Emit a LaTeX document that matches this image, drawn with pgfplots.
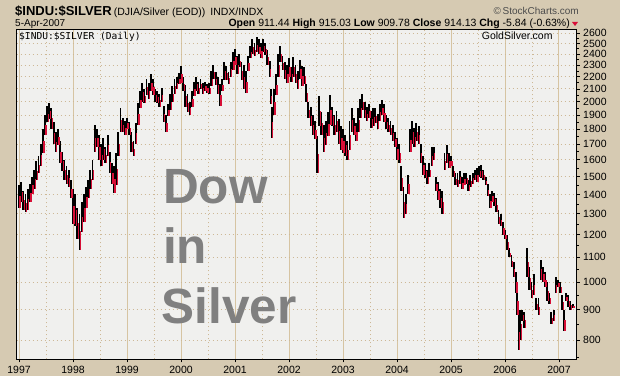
\documentclass[border=0pt]{standalone}
\usepackage{fontspec}
\setmainfont{Liberation Sans}
\newfontfamily\monofont{DejaVu Sans Mono}
\usepackage{pgfplots}
\usepackage{pgfplotstable}
\pgfplotsset{compat=1.18}
\definecolor{bgtan}{RGB}{214,202,178}
\definecolor{plotbg}{RGB}{240,240,238}
\definecolor{yeargrid}{RGB}{214,196,162}
\definecolor{dotgrid}{RGB}{205,184,150}
\definecolor{downred}{RGB}{215,15,55}
\definecolor{bigtext}{RGB}{128,128,128}

\pgfplotstableread{
x lo hi
1997.00 1330 1450
1997.04 1360 1470
1997.08 1320 1420
1997.12 1310 1400
1997.16 1320 1430
1997.20 1360 1460
1997.24 1400 1500
1997.28 1430 1540
1997.32 1480 1590
1997.36 1520 1620
1997.40 1560 1700
1997.44 1640 1800
1997.48 1760 1900
1997.52 1850 1970
1997.56 1870 1990
1997.60 1800 1950
1997.64 1700 1850
1997.68 1650 1780
1997.72 1690 1800
1997.76 1580 1720
1997.80 1530 1650
1997.84 1480 1600
1997.88 1460 1560
1997.92 1440 1540
1997.96 1380 1480
1998.00 1250 1430
1998.04 1240 1400
1998.08 1180 1330
1998.12 1130 1300
1998.16 1210 1360
1998.20 1260 1400
1998.24 1330 1440
1998.28 1380 1480
1998.32 1430 1540
1998.36 1480 1600
1998.40 1650 1830
1998.44 1680 1800
1998.48 1600 1760
1998.52 1560 1700
1998.56 1600 1740
1998.60 1580 1680
1998.64 1620 1760
1998.68 1520 1650
1998.72 1460 1580
1998.76 1410 1560
1998.80 1450 1640
1998.84 1620 1780
1998.88 1780 1950
1998.92 1780 1880
1998.96 1760 1860
1999.00 1800 1880
1999.04 1760 1850
1999.08 1650 1780
1999.12 1620 1720
1999.16 1700 1840
1999.20 1830 1990
1999.24 1950 2080
1999.28 2000 2150
1999.32 1990 2100
1999.36 2050 2180
1999.40 2020 2150
1999.44 2080 2220
1999.48 2050 2180
1999.52 2000 2100
1999.56 1990 2080
1999.60 1960 2060
1999.64 2000 2110
1999.68 1850 1970
1999.72 1780 1900
1999.76 1890 1980
1999.80 1940 2060
1999.84 2000 2120
1999.88 2060 2180
1999.92 2100 2200
1999.96 2140 2230
2000.00 2150 2290
2000.04 2080 2200
2000.08 1960 2130
2000.12 1920 2060
2000.16 1900 2000
2000.20 1960 2080
2000.24 2040 2160
2000.28 2080 2200
2000.32 2060 2160
2000.36 2100 2180
2000.40 2060 2150
2000.44 2080 2160
2000.48 2070 2140
2000.52 2060 2150
2000.56 2120 2250
2000.60 2180 2300
2000.64 2130 2240
2000.68 2060 2200
2000.72 1970 2140
2000.76 2080 2180
2000.80 2170 2330
2000.84 2170 2290
2000.88 2140 2240
2000.92 2200 2330
2000.96 2260 2420
2001.00 2300 2450
2001.04 2220 2380
2001.08 2280 2400
2001.12 2170 2330
2001.16 2100 2300
2001.20 2070 2250
2001.24 2250 2380
2001.28 2360 2480
2001.32 2400 2540
2001.36 2380 2500
2001.40 2420 2560
2001.44 2400 2540
2001.48 2360 2500
2001.52 2420 2540
2001.56 2390 2500
2001.60 2300 2440
2001.64 2200 2340
2001.66 1980 2100
2001.68 1740 1960
2001.72 1900 2100
2001.76 2050 2220
2001.80 2200 2400
2001.84 2330 2480
2001.88 2260 2380
2001.92 2180 2330
2001.96 2150 2300
2002.00 2200 2360
2002.04 2160 2280
2002.08 2200 2370
2002.12 2150 2300
2002.16 2100 2250
2002.20 2180 2350
2002.24 2120 2290
2002.28 2140 2280
2002.32 2000 2140
2002.36 1880 2000
2002.40 1820 1960
2002.44 1760 1900
2002.48 1730 1860
2002.52 1520 1750
2002.56 1820 2040
2002.60 1760 1920
2002.64 1650 1830
2002.68 1690 1860
2002.72 1750 1920
2002.76 1830 2050
2002.80 1820 1960
2002.84 1760 1900
2002.88 1780 1930
2002.92 1700 1870
2002.96 1660 1820
2003.00 1640 1800
2003.04 1620 1760
2003.08 1600 1720
2003.12 1660 1860
2003.16 1780 1950
2003.20 1760 1880
2003.24 1720 1840
2003.28 1780 1950
2003.32 1880 2020
2003.36 1940 2060
2003.40 1880 2000
2003.44 1860 1960
2003.48 1880 1980
2003.52 1810 1930
2003.56 1820 1950
2003.60 1840 1950
2003.64 1800 1910
2003.68 1860 1980
2003.72 1900 2010
2003.76 1850 1980
2003.80 1800 1900
2003.84 1780 1880
2003.88 1760 1860
2003.92 1720 1830
2003.96 1680 1780
2004.00 1600 1740
2004.04 1580 1700
2004.08 1420 1560
2004.12 1280 1440
2004.16 1300 1400
2004.20 1400 1510
2004.24 1650 1800
2004.28 1700 1860
2004.32 1680 1810
2004.36 1720 1840
2004.40 1700 1820
2004.44 1580 1700
2004.48 1510 1620
2004.52 1490 1580
2004.56 1460 1540
2004.60 1500 1580
2004.64 1560 1680
2004.68 1600 1680
2004.72 1420 1500
2004.76 1370 1470
2004.80 1330 1430
2004.84 1300 1420
2004.88 1540 1640
2004.92 1580 1690
2004.96 1550 1640
2005.00 1560 1620
2005.04 1500 1560
2005.08 1450 1520
2005.12 1440 1520
2005.16 1460 1530
2005.20 1430 1500
2005.24 1450 1520
2005.28 1460 1520
2005.32 1420 1480
2005.36 1440 1510
2005.40 1460 1520
2005.44 1480 1540
2005.48 1470 1550
2005.52 1500 1560
2005.56 1490 1570
2005.60 1480 1540
2005.64 1450 1500
2005.68 1390 1460
2005.72 1330 1400
2005.76 1360 1420
2005.80 1340 1410
2005.84 1310 1380
2005.88 1250 1320
2005.92 1240 1300
2005.96 1200 1260
2006.00 1180 1220
2006.04 1130 1200
2006.08 1100 1140
2006.12 1060 1110
2006.16 1020 1080
2006.20 960 1040
2006.22 880 980
2006.25 770 880
2006.28 800 900
2006.32 860 900
2006.36 840 890
2006.41 1020 1140
2006.45 970 1060
2006.49 940 1000
2006.53 950 1030
2006.58 900 940
2006.62 880 940
2006.66 1010 1090
2006.70 1000 1060
2006.74 980 1040
2006.78 930 1000
2006.82 920 960
2006.86 850 890
2006.90 860 900
2006.94 960 1020
2006.98 980 1010
2007.02 960 1000
2007.06 900 950
2007.09 830 900
2007.13 930 960
2007.17 910 950
2007.21 900 930
2007.26 905 920
}\dowsilver

\begin{document}
\begin{tikzpicture}[x=1pt,y=1pt]
\fill[bgtan] (0,0) rectangle (620,376);
\begin{axis}[
  at={(16.7pt,16.7pt)}, anchor=south west,
  scale only axis, width=560pt, height=329.8pt,
  xmin=1996.957, xmax=2007.328,
  ymode=log, ymin=743.7, ymax=2638,
  axis background/.style={fill=plotbg},
  axis line style={black, line width=1.1pt},
  tick align=outside,
  major tick length=3pt, minor tick length=2pt,
  tick style={black, line width=0.7pt},
  xtick pos=lower, ytick pos=upper, yticklabel pos=upper,
  xtick={1997,1998,1999,2000,2001,2002,2003,2004,2005,2006,2007},
  xticklabels={1997,1998,1999,2000,2001,2002,2003,2004,2005,2006,2007},
  ytick={800,900,1000,1100,1200,1300,1400,1500,1600,1700,1800,1900,2000,2100,2200,2300,2400,2500,2600},
  yticklabels={800,900,1000,1100,1200,1300,1400,1500,1600,1700,1800,1900,2000,2100,2200,2300,2400,2500,2600},
  minor ytick={750,850,950,1050,1150,1250,1350,1450,1550,1650,1750,1850,1950,2050,2150,2250,2350,2450,2550},
  xmajorgrids, ymajorgrids,
  x grid style={yeargrid, line width=1pt, solid},
  y grid style={dotgrid, line width=0.8pt, dash pattern=on 1pt off 3pt},
  tick label style={font=\fontsize{10.5}{12}\selectfont},
  xticklabel style={yshift=0pt},
  clip=true,
]
\foreach \m in {1997.5,1998.5,1999.5,2000.5,2001.5,2002.5,2003.5,2004.5,2005.5,2006.5}{
  \edef\tmp{\noexpand\draw[dotgrid, line width=0.8pt, dash pattern=on 1pt off 3pt] (axis cs:\m,743.7) -- (axis cs:\m,2638);}\tmp
}
\addplot[draw=none, mark=none, forget plot,
  error bars/.cd, y dir=both, y explicit, error mark=none,
  error bar style={draw=black, line width=1.9pt}]
  table[x=x, y expr={(\thisrow{lo}+\thisrow{hi})/2},
        y error plus expr={(\thisrow{hi}-\thisrow{lo})/2},
        y error minus expr={(\thisrow{hi}-\thisrow{lo})/2}] {\dowsilver};
\addplot[draw=none, mark=none, forget plot,
  error bars/.cd, y dir=both, y explicit, error mark=none,
  error bar style={draw=downred, line width=1.3pt}]
  table[x expr={\thisrow{x}+0.02}, y expr={(3*\thisrow{lo}+\thisrow{hi})/4},
        y error plus expr={(\thisrow{hi}-\thisrow{lo})/4},
        y error minus expr={(\thisrow{hi}-\thisrow{lo})/4}] {\dowsilver};
\end{axis}
% header
\node[anchor=base west, inner sep=0pt] at (15,360.5)
  {{\fontsize{13}{14}\selectfont\bfseries \$INDU:\$SILVER}\hspace{2pt}{\fontsize{10.5}{12}\selectfont (DJIA/Silver (EOD))\hspace{5pt}INDX/INDX}};
\node[anchor=base east, inner sep=0pt, text=black!70] at (579,361.5)
  {\fontsize{10}{12}\selectfont \textcopyright\,StockCharts.com};
\node[anchor=base west, inner sep=0pt] at (15,349.3)
  {\fontsize{10}{12}\selectfont 5-Apr-2007};
\node[anchor=base east, inner sep=0pt] at (570,349.3)
  {\fontsize{10.5}{12}\selectfont \textbf{Open} 911.44 \textbf{High} 915.03 \textbf{Low} 909.78 \textbf{Close} 914.13 \textbf{Chg} -5.84 (-0.63\%)};
\fill[downred] (572,354) -- (578,354) -- (575,350) -- cycle;
% inside labels
\node[anchor=base west, inner sep=0pt] at (19,336.5)
  {\monofont\fontsize{9.6}{12}\selectfont \$INDU:\$SILVER (Daily)};
\node[anchor=base west, inner sep=0pt] at (481.7,336)
  {\fontsize{10.5}{12}\selectfont GoldSilver.com};
\node[anchor=base west, inner sep=0pt, text=bigtext] at (163,172.7)
  {\fontsize{49.5}{50}\selectfont\bfseries Dow};
\node[anchor=base west, inner sep=0pt, text=bigtext] at (163,112.7)
  {\fontsize{49.5}{50}\selectfont\bfseries in};
\node[anchor=base west, inner sep=0pt, text=bigtext] at (161.7,52.7)
  {\fontsize{49.5}{50}\selectfont\bfseries Silver};
\end{tikzpicture}
\end{document}
